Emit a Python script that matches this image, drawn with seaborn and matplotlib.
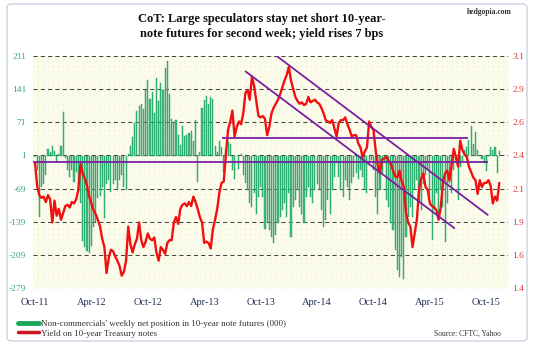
import numpy as np
import pandas as pd
import matplotlib
matplotlib.use("Agg")
import matplotlib.pyplot as plt
from matplotlib.lines import Line2D
from matplotlib.patches import FancyBboxPatch
import seaborn as sns

# ---------------- data ----------------
tick_labels = ["Oct-11", "Apr-12", "Oct-12", "Apr-13", "Oct-13",
               "Apr-14", "Oct-14", "Apr-15", "Oct-15"]
tick_step_weeks = 26

net_position = [
    -3, -30, -129, -66, -60, -40, 15, 8, 20, 10,
    -12, 5, 20, 93, -5, -30, -45, -30, -55, -35,
    -60, -100, -180, -192, -200, -206, -190, -150, -140, -89,
    -85, -66, -132, -60, -51, -76, -60, -51, -72, -51,
    -40, -66, -72, 5, 20, 40, 70, 95, 105, 110,
    100, 140, 160, 120, 135, 90, 165, 115, 155, 140,
    185, 200, 130, 78, 72, 76, 44, 23, 63, 42,
    44, 48, 52, 32, 75, -55, 8, 101, 118, 127,
    110, 125, 120, 20, 8, 31, 19, -33, 15, 30,
    25, -30, -48, 0, -28, 5, -40, -58, -72, -100,
    -108, -79, -122, -86, -65, -86, -155, -140, -156, -171,
    -185, -167, -142, -128, -114, -100, -128, -79, -171, -107,
    -93, -72, -107, -122, -142, -86, -65, -86, -100, -72,
    -60, -70, -115, -150, -136, -93, -122, -72, -44, -16,
    -44, -72, -86, -51, -65, -93, -58, -44, -37, -48,
    -30, -44, -72, -79, -16, -9, -30, -86, -122, -72,
    -37, -16, -93, -107, -142, -156, -199, -241, -256, -213,
    -260, -171, -128, -107, -128, -72, -50, -100, -115, -60,
    -40, -30, -86, -178, -115, -79, -128, -72, -107, -181,
    -100, -58, -79, -30, -9, -93, -23, -10, 12, 19,
    33, 63, 26, 51, 12, 0, -7, -15, -32, 0,
    19, 12, 19, -36, 10,
]

yield_10y = [
    2.32, 2.15, 2.08, 2.06, 2.07, 2.03, 2.08, 2.05, 1.88, 2.04,
    1.93, 1.98, 1.90, 1.95, 2.00, 2.01, 1.99, 2.03, 2.02, 2.05,
    2.12, 2.31, 2.24, 2.20, 2.15, 2.07, 2.02, 1.97, 1.94, 1.90,
    1.85, 1.76, 1.70, 1.51, 1.62, 1.68, 1.67, 1.63, 1.60, 1.56,
    1.49, 1.52, 1.60, 1.85, 1.72, 1.66, 1.72, 1.76, 1.88, 1.75,
    1.70, 1.74, 1.80, 1.76, 1.75, 1.77, 1.66, 1.60, 1.70, 1.68,
    1.65, 1.73, 1.75, 1.75, 1.88, 1.92, 1.87, 1.98, 2.01, 2.02,
    2.00, 2.03, 2.00, 2.07, 2.03, 1.98, 1.92, 1.88, 1.73, 1.74,
    1.73, 1.69, 1.83, 1.90, 1.98, 2.10, 2.17, 2.18, 2.38, 2.56,
    2.62, 2.70, 2.51, 2.58, 2.62, 2.60, 2.68, 2.83, 2.85, 2.78,
    2.95, 2.88, 2.77, 2.66, 2.65, 2.66, 2.64, 2.52, 2.58, 2.68,
    2.72, 2.75, 2.78, 2.82, 2.87, 2.92, 2.96, 3.02, 2.92, 2.86,
    2.80, 2.77, 2.75, 2.76, 2.74, 2.75, 2.80, 2.76, 2.77, 2.78,
    2.76, 2.75, 2.72, 2.68, 2.63, 2.62, 2.61, 2.63, 2.57, 2.51,
    2.61, 2.63, 2.63, 2.65, 2.60, 2.56, 2.51, 2.52, 2.52, 2.46,
    2.43, 2.36, 2.40, 2.43, 2.62, 2.58, 2.56, 2.41, 2.30, 2.24,
    2.34, 2.35, 2.36, 2.33, 2.31, 2.26, 2.22, 2.21, 2.26, 2.18,
    2.14, 1.95, 1.88, 1.85, 1.70, 1.80, 1.90, 2.12, 2.20, 2.24,
    2.14, 2.12, 2.02, 2.00, 1.99, 1.97, 1.90, 1.99, 2.17, 2.24,
    2.26, 2.19, 2.30, 2.42, 2.36, 2.29, 2.48, 2.41, 2.38, 2.36,
    2.29, 2.25, 2.21, 2.19, 2.09, 2.19, 2.14, 2.17, 2.17, 2.19,
    2.15, 2.02, 2.07, 2.04, 2.17,
]

# trend lines drawn on the chart (week index, yield)
support_h = {"x": [-1, 209], "y": [2.325, 2.325]}
resist_h = {"x": [86, 199.5], "y": [2.497, 2.497]}
channel_upper = {"x": [111.4, 208.9], "y": [3.1, 1.933]}
channel_lower = {"x": [96.8, 193.5], "y": [2.99, 1.836]}

left_ticks = [211, 141, 71, 1, -69, -139, -209, -279]
right_ticks = list(np.linspace(1.4, 3.1, 8))
right_tick_labels = ["1.4", "1.6", "1.9", "2.1", "2.4", "2.6", "2.9", "3.1"]

n = len(net_position)
yield_10y = yield_10y[:n]
df = pd.DataFrame({"week": np.arange(n), "net": net_position, "yld": yield_10y})

# ---------------- style ----------------
sns.set_theme(style="white")
plt.rcParams["font.family"] = ["Liberation Serif", "DejaVu Serif"]

W, H = 534, 344
fig = plt.figure(figsize=(W / 100, H / 100), dpi=100)
fig.patch.set_facecolor("white")

# outer frame
frame = FancyBboxPatch((7 / W, 3 / H), 520 / W, 337 / H,
                       boxstyle="round,pad=0,rounding_size=0.01",
                       transform=fig.transFigure, facecolor="none",
                       edgecolor="#c9d3e0", linewidth=1.0, zorder=-5)
fig.patches.append(frame)

left_px, right_px, top_px, bot_px = 33, 508, 56, 288
ax = fig.add_axes([left_px / W, 1 - bot_px / H,
                   (right_px - left_px) / W, (bot_px - top_px) / H])
ax.set_facecolor("#fbfbec")

# faint dotted texture
gx, gy = np.meshgrid(np.linspace(0, 1, 95), np.linspace(0, 1, 48))
ax.scatter(gx.ravel(), gy.ravel(), s=0.5, color="#efeabc",
           transform=ax.transAxes, zorder=0, linewidths=0)

sns.barplot(data=df, x="week", y="net", ax=ax, color="#3bbb7e",
            width=0.5, errorbar=None, saturation=1, zorder=2)
for p in ax.patches:
    p.set_edgecolor("#1e9a5e")
    p.set_linewidth(0.3)

ax.set_ylim(-279, 211)
ax.set_yticks(left_ticks)
ax.set_yticklabels([str(t) for t in left_ticks])
for t in left_ticks:
    ax.axhline(t, color="#444444", linestyle=(0, (4, 3)), linewidth=0.75, zorder=1)

ax2 = ax.twinx()
sns.lineplot(data=df, x="week", y="yld", ax=ax2, color="#f01010",
             linewidth=1.7, zorder=5)
for tl in (support_h, resist_h, channel_upper, channel_lower):
    ax2.plot(tl["x"], tl["y"], color="#7a1fa0", linewidth=1.3, zorder=6,
             solid_capstyle="butt")
ax2.set_ylim(1.4, 3.1)
ax2.set_yticks(right_ticks)
ax2.set_yticklabels(right_tick_labels)

xt = list(range(0, n, tick_step_weeks))[:len(tick_labels)]
ax.set_xticks(xt)
ax.set_xticklabels(tick_labels)
ax.set_xlim(-0.9, 218)
ax2.set_xlim(-0.9, 218)

ax.set_xlabel("")
ax.set_ylabel("")
ax2.set_xlabel("")
ax2.set_ylabel("")
for a in (ax, ax2):
    for s in a.spines.values():
        s.set_visible(False)
    a.grid(False)

ax.tick_params(axis="y", length=0, pad=5, labelsize=6.8, labelcolor="#3aa878")
ax2.tick_params(axis="y", length=0, pad=3, labelsize=6.8, labelcolor="#d83a3a")
ax.tick_params(axis="x", length=0, pad=7, labelsize=7.5, labelcolor="#24305a")

# title & annotations
fig.text(262 / W, 1 - 19 / H, "CoT: Large speculators stay net short 10-year-",
         ha="center", va="center", fontsize=9, fontweight="bold", color="#111111")
fig.text(262 / W, 1 - 34 / H, "note futures for second week; yield rises 7 bps",
         ha="center", va="center", fontsize=9, fontweight="bold", color="#111111")
fig.text(512 / W, 1 - 12 / H, "hedgopia.com", ha="right", va="center",
         fontsize=5.5, fontweight="bold", color="#333333")
fig.text(501 / W, 1 - 334 / H, "Source: CFTC, Yahoo", ha="right", va="center",
         fontsize=5.5, color="#333333")

handles = [Line2D([], [], color="#18a858", linewidth=3.5),
           Line2D([], [], color="#c8141e", linewidth=2.5)]
labels = ["Non-commercials' weekly net position in 10-year note futures (000)",
          "Yield on 10-year Treasury notes"]
fig.legend(handles, labels, loc="upper left", bbox_to_anchor=(18 / W, 1 - 320 / H),
           frameon=False, fontsize=6.5, handlelength=2.3, handletextpad=0.2,
           labelspacing=0.1, borderpad=0, borderaxespad=0, labelcolor="#333333")

fig.savefig("out.png", dpi=100)
